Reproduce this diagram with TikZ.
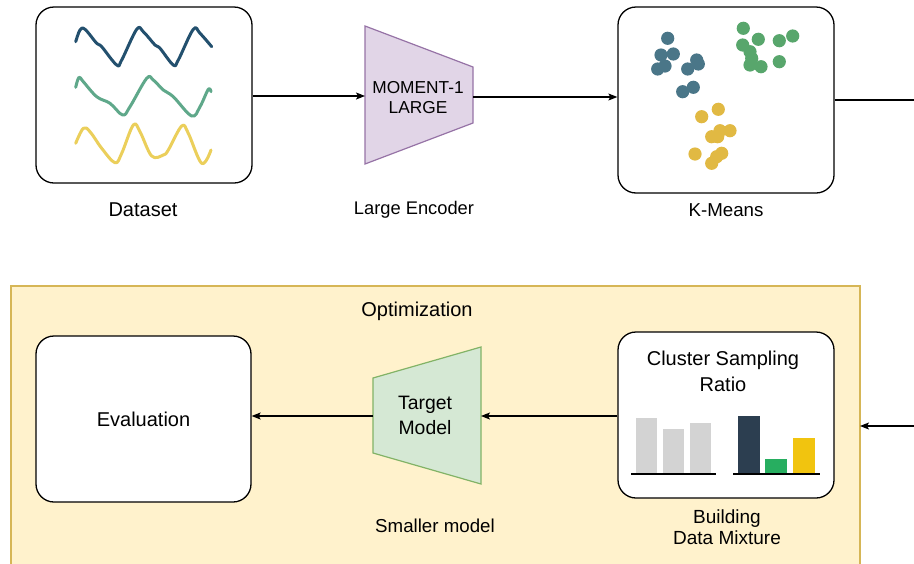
\documentclass[tikz,border=0pt]{standalone}
\usepackage{fontspec}
\setmainfont{Liberation Sans}
\usetikzlibrary{arrows.meta}

\definecolor{waveblue}{HTML}{23506E}
\definecolor{wavegreen}{HTML}{5FA88A}
\definecolor{waveyellow}{HTML}{EBCF5B}
\definecolor{dotblue}{HTML}{4A7688}
\definecolor{dotgreen}{HTML}{58A66C}
\definecolor{dotyellow}{HTML}{E1B943}
\definecolor{encfill}{HTML}{E1D5E7}
\definecolor{encline}{HTML}{9673A6}
\definecolor{tgtfill}{HTML}{D5E8D4}
\definecolor{tgtline}{HTML}{82B366}
\definecolor{optfill}{HTML}{FFF2CC}
\definecolor{optline}{HTML}{D6B656}
\definecolor{bargray}{HTML}{D3D3D3}
\definecolor{baseline}{HTML}{8C8C8C}
\definecolor{bardark}{HTML}{2C3E50}
\definecolor{bargreen}{HTML}{27AE60}
\definecolor{baryellow}{HTML}{F1C40F}

\tikzset{
  panel/.style={draw=black, line width=1.3pt, rounded corners=18pt, fill=white,
    inner sep=0pt},
  caption/.style={font=\fontsize{18.7}{22}\selectfont, inner sep=0pt, align=center},
  bigtext/.style={font=\fontsize{20}{24}\selectfont, inner sep=0pt, align=center},
  conn/.style={line width=1.1pt, -{Stealth[length=9pt,width=7pt,inset=2pt]}},
  plain/.style={line width=1.1pt},
  wave/.style={line width=3pt, line cap=round, line join=round},
  dot/.style={radius=6.6pt},
}

\begin{document}
\begin{tikzpicture}[x=1pt, y=-1pt]
  \useasboundingbox (0,0) rectangle (914,563);

  % optimization container
  \fill[optfill] (11,286) rectangle (860,575);
  \draw[optline, line width=1.2pt] (11,575) -- (11,286) -- (860,286) -- (860,575);
  \node[bigtext] (opt) at (417,311) {Optimization};

  % dataset panel with three time series
  \node[panel, minimum width=216pt, minimum height=176pt] (ds) at (144,95) {};
  \draw[wave, waveblue] plot[smooth, tension=0.6] coordinates {
    (75.7,41.7) (80,30) (85,29.3) (96.7,43.3) (101.7,46.7) (116.7,65) (121.7,60)
    (136.7,29.3) (143.3,31.7) (155,45) (160,48.3) (173.3,65) (178.3,60)
    (193.3,29.3) (200,33.3) (211.7,46.7)};
  \draw[wave, wavegreen] plot[smooth, tension=0.6] coordinates {
    (75.7,87.3) (79,77.3) (83.3,81.7) (96.7,96.7) (110,103.3) (122.7,115)
    (130,106.7) (146.7,78.3) (153.3,80) (163.3,90) (173.3,96.7) (191.7,116)
    (200,106.7) (208.3,89.3) (211,91.7)};
  \draw[wave, waveyellow] plot[smooth, tension=0.6] coordinates {
    (75.7,143.3) (83.3,128.3) (90,131.7) (101.7,148.3) (115,162.7) (121.7,153.3)
    (133.3,125) (140,131.7) (151.7,156) (163.3,155) (168.3,150) (181.7,126)
    (188.3,133.3) (201.7,163.3) (211,150)};
  \node[bigtext] (dslabel) at (143,210) {Dataset};

  % large encoder
  \draw[fill=encfill, draw=encline, line width=1.2pt]
    (365,26) -- (473,67) -- (473,123) -- (365,164) -- cycle;
  \coordinate (encL) at (365,96);
  \coordinate (encR) at (473,97);
  \node[caption, font=\fontsize{17.3}{20}\selectfont] (enc) at (418,98)
    {MOMENT-1\\LARGE};
  \node[caption, font=\fontsize{18.3}{22}\selectfont] (enclabel) at (414,210)
    {Large Encoder};

  % k-means panel with clustered points
  \node[panel, minimum width=216pt, minimum height=186pt] (km) at (726,100) {};
  \foreach \p in {(667.7,38.3),(661,55),(673.3,54),(657.7,69),(665,66),
                  (687.7,69),(696.7,60),(698.3,64),(682.7,91.7),(693.3,87.3)}
    \fill[dotblue] \p circle[dot];
  \foreach \p in {(743.3,28.3),(742.7,45),(758.3,39.3),(750,51.7),(751.7,58.3),
                  (750,65),(761,66.7),(779.3,40.7),(792.7,36),(779.3,61.7)}
    \fill[dotgreen] \p circle[dot];
  \foreach \p in {(701.7,116.7),(718.3,109.3),(711.7,136.7),(720,130.7),(730,130.7),
                  (717.7,136.7),(695,154),(721.7,153.3),(711.7,163.3),(716.7,156.7)}
    \fill[dotyellow] \p circle[dot];
  \node[caption] (kmlabel) at (726,210) {K-Means};

  % evaluation panel
  \node[panel, minimum width=215pt, minimum height=166pt,
        font=\fontsize{20}{24}\selectfont] (ev) at (143.5,419) {Evaluation};

  % target model
  \draw[fill=tgtfill, draw=tgtline, line width=1.2pt]
    (373,378) -- (481,347) -- (481,484) -- (373,453) -- cycle;
  \coordinate (tgtL) at (373,416);
  \coordinate (tgtR) at (481,416);
  \node[caption, font=\fontsize{19.4}{25}\selectfont] (tgt) at (425,415)
    {Target\\Model};
  \node[caption] (tgtlabel) at (435,526) {Smaller model};

  % cluster sampling ratio panel with bar charts
  \node[panel, minimum width=216pt, minimum height=166pt] (cs) at (726,415) {};
  \node[bigtext, font=\fontsize{20}{26}\selectfont] (cstitle) at (723,371)
    {Cluster Sampling\\Ratio};
  \fill[bargray] (636,418) rectangle (657,474);
  \fill[bargray] (663,429) rectangle (684,474);
  \fill[bargray] (690,423) rectangle (711,474);
  \draw[baseline, line width=1.5pt] (631,474) -- (716,474);
  \fill[bardark] (738,416) rectangle (760,474);
  \fill[bargreen] (765,459) rectangle (787,474);
  \fill[baryellow] (793,438) rectangle (815,474);
  \draw[baseline, line width=1.5pt] (733,474) -- (820,474);
  \node[caption, font=\fontsize{19}{21}\selectfont] (cslabel) at (727,527)
    {Building\\Data Mixture};

  % connectors
  \coordinate (outR) at (914,100);
  \coordinate (inR) at (914,426);
  \coordinate (inEnd) at (860,426);
  \draw[conn] (ds.east |- encL) -- (encL);
  \draw[conn] (encR) -- (encR -| km.west);
  \draw[plain] (km.east) -- (outR);
  \draw[conn] (inR) -- (inEnd);
  \draw[conn] (cs.west |- tgtR) -- (tgtR);
  \draw[conn] (tgtL) -- (tgtL -| ev.east);
\end{tikzpicture}
\end{document}
